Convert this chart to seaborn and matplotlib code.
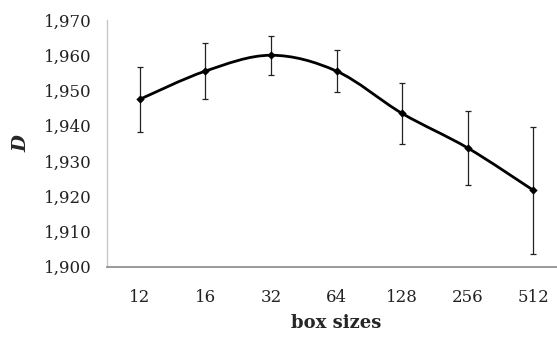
import numpy as np
import pandas as pd
import matplotlib
matplotlib.use("Agg")
import matplotlib.pyplot as plt
import seaborn as sns
from matplotlib.path import Path
from matplotlib.patches import PathPatch
from matplotlib.ticker import FixedLocator

# ---- data ----
box_sizes = ["12", "16", "32", "64", "128", "256", "512"]
D_values = [1.9475, 1.9555, 1.9600, 1.9555, 1.9435, 1.9337, 1.9217]
D_errors = [0.0092, 0.0080, 0.0055, 0.0059, 0.0086, 0.0106, 0.0180]
y_ticks = [1.900, 1.910, 1.920, 1.930, 1.940, 1.950, 1.960, 1.970]
y_tick_labels = ["1,900", "1,910", "1,920", "1,930", "1,940", "1,950", "1,960", "1,970"]

sns.set_style("white")
plt.rcParams["font.family"] = ["DejaVu Serif"]

df = pd.DataFrame({"box": box_sizes, "D": D_values, "err": D_errors})
df["pos"] = np.arange(len(df))

fig = plt.figure(figsize=(5.57, 3.38), dpi=100)
ax = fig.add_axes([107 / 557, 1 - 266.7 / 338, (566 - 107) / 557, (266.7 - 20) / 338])

# error bars
ax.errorbar(df["pos"], df["D"], yerr=df["err"], fmt="none", ecolor="#222222",
            elinewidth=0.9, capsize=2.2, capthick=0.9, zorder=2)

# smoothed line (Bezier through data points)
xs = df["pos"].to_numpy(float)
ys = df["D"].to_numpy(float)
n = len(xs)
verts = [(xs[0], ys[0])]
codes = [Path.MOVETO]
for i in range(n - 1):
    p0 = np.array([xs[max(i - 1, 0)], ys[max(i - 1, 0)]])
    p1 = np.array([xs[i], ys[i]])
    p2 = np.array([xs[i + 1], ys[i + 1]])
    p3 = np.array([xs[min(i + 2, n - 1)], ys[min(i + 2, n - 1)]])
    c1 = p1 + (p2 - p0) / 6.0
    c2 = p2 - (p3 - p1) / 6.0
    verts += [tuple(c1), tuple(c2), tuple(p2)]
    codes += [Path.CURVE4] * 3
ax.add_patch(PathPatch(Path(verts, codes), fill=False, edgecolor="black", lw=2.0, zorder=3))

# markers
sns.scatterplot(data=df, x="pos", y="D", marker="D", s=18, color="black",
                edgecolor="black", linewidth=0, ax=ax, zorder=4, legend=False)

ax.set_xlim(-0.5, 6.5)
ax.set_ylim(1.900, 1.970)
ax.set_xticks(df["pos"])
ax.set_xticklabels(box_sizes, fontsize=12)
ax.xaxis.set_minor_locator(FixedLocator(np.arange(-0.5, 7, 1.0)))
ax.tick_params(axis="x", which="major", length=0, pad=16)
ax.tick_params(axis="x", which="minor", length=5, width=1, color="#888888", direction="out")
ax.set_yticks(y_ticks)
ax.set_yticklabels(y_tick_labels, fontsize=12)
ax.tick_params(axis="y", length=5, width=1, color="#aaaaaa", direction="out", pad=6)
ax.tick_params(axis="both", labelcolor="#222222")

for s in ["top", "right"]:
    ax.spines[s].set_visible(False)
ax.spines["left"].set_color("#c8c8c8")
ax.spines["bottom"].set_color("#888888")
ax.spines["left"].set_linewidth(1)
ax.spines["bottom"].set_linewidth(1.2)

ax.set_xlabel("box sizes", fontsize=13, fontweight="bold", labelpad=6)
ax.set_ylabel("D", fontsize=14, fontweight="bold", style="italic", labelpad=10)
ax.grid(False)

fig.savefig("out.png", dpi=100)
